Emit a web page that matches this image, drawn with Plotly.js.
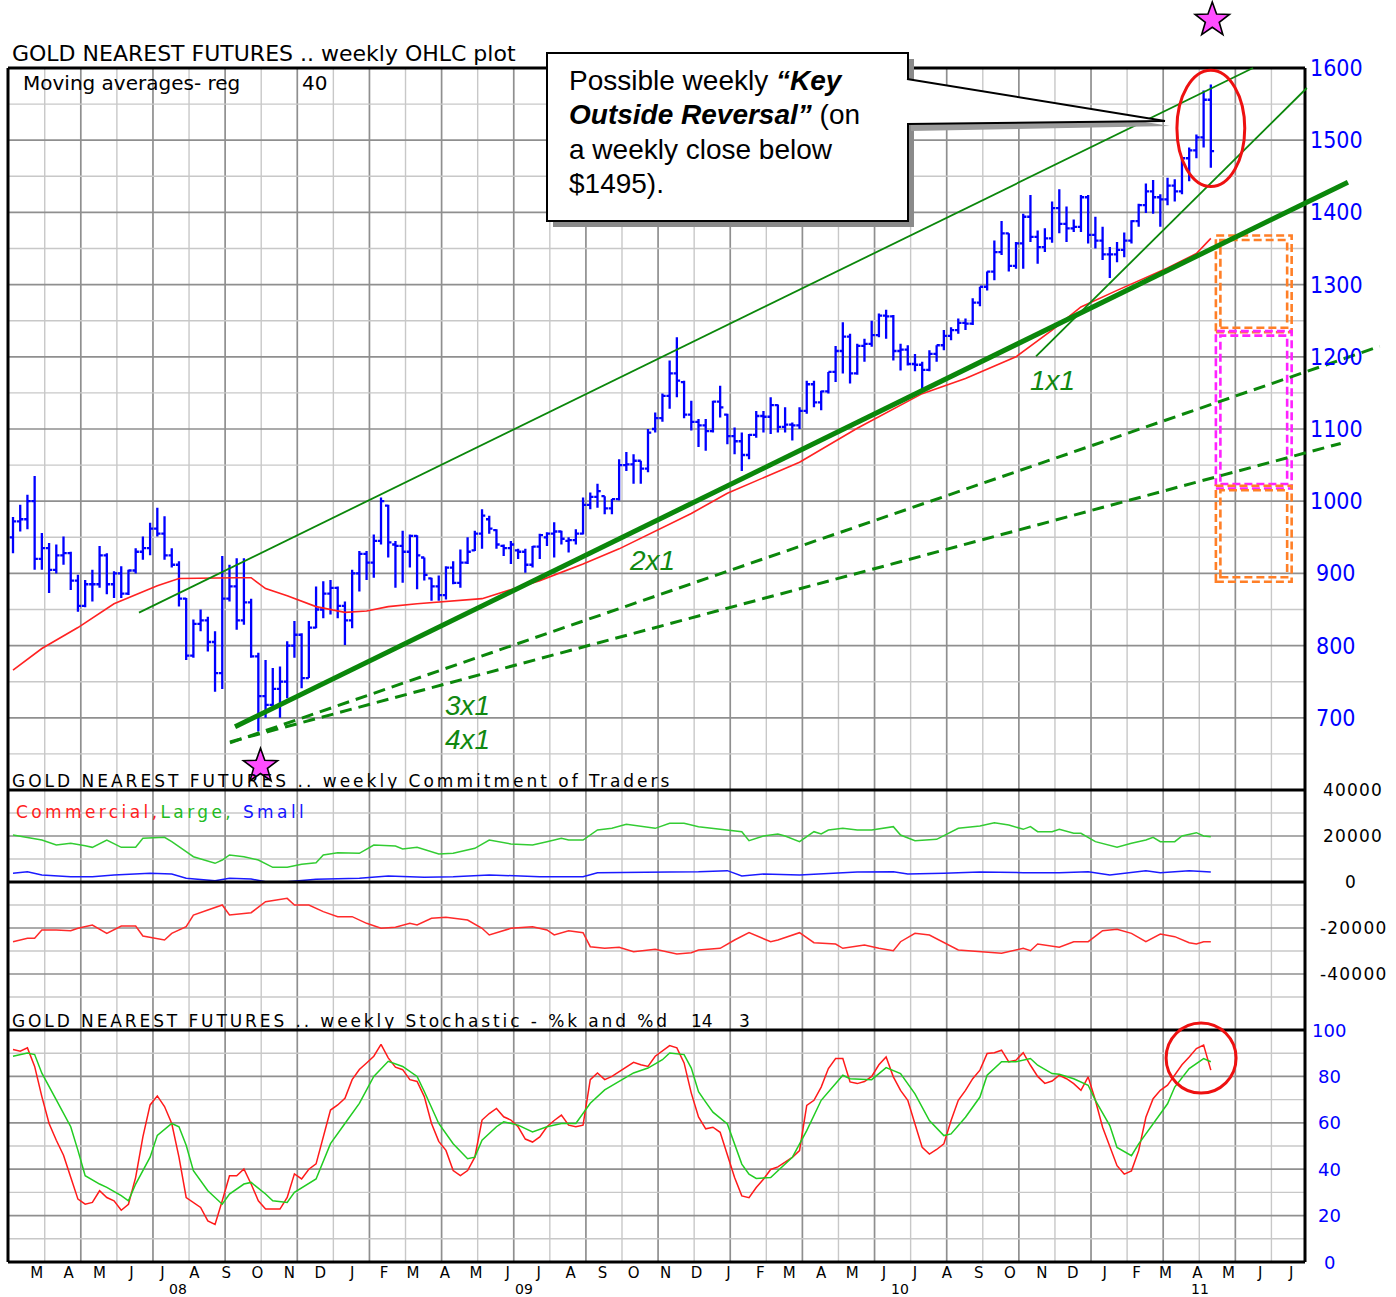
<!DOCTYPE html>
<html><head><meta charset="utf-8">
<script src="https://cdn.plot.ly/plotly-3.0.1.min.js"></script>
<style>html,body{margin:0;padding:0;background:#fff;}#chart{width:1396px;height:1297px;}</style>
</head><body><div id="chart"></div>
<script>
// ================= DATA =================
// Weekly bars, first bar = week ending 2008-02-29, one bar per week (167 bars)
const firstWeek = [2008, 1, 29];
const openP = [950,972,975,1000,920,935,905,925,928,890,
855,885,885,925,885,900,872,904,930,935,
962,955,925,912,865,786,830,835,805,762,
865,882,835,860,785,730,718,740,750,800,
815,755,825,850,872,880,855,835,900,927,
915,945,994,940,938,930,952,922,893,882,
870,908,887,915,932,955,975,960,938,935,
932,930,912,937,950,955,958,945,946,955,
995,1006,1007,990,1003,1050,1051,1056,1045,1100,
1115,1146,1177,1165,1120,1110,1105,1097,1138,1120,
1090,1083,1064,1092,1118,1117,1133,1103,1106,1105,
1125,1162,1137,1152,1179,1208,1228,1177,1215,1218,
1230,1257,1256,1208,1210,1190,1189,1182,1204,1216,
1229,1237,1247,1246,1275,1297,1318,1345,1371,1326,
1357,1394,1366,1352,1364,1406,1384,1378,1380,1421,
1369,1361,1342,1342,1348,1361,1388,1410,1429,1421,
1418,1437,1429,1475,1486,1504,1556];
const highP = [978,995,1009,1035,956,942,940,951,930,898,
891,905,938,928,903,910,905,935,951,970,
991,979,935,917,866,836,850,840,820,924,
912,921,921,865,790,780,769,771,806,834,
817,834,882,889,891,882,861,905,931,931,
954,1005,995,945,959,954,953,922,894,897,
910,917,933,950,959,989,980,961,940,945,
934,934,938,955,957,971,959,950,961,1005,
1012,1024,1007,1003,1058,1068,1065,1056,1100,1123,
1149,1195,1227,1167,1139,1114,1114,1139,1160,1121,
1102,1095,1093,1125,1125,1144,1134,1130,1109,1130,
1167,1167,1153,1179,1215,1248,1232,1218,1225,1250,
1260,1265,1258,1218,1216,1204,1193,1209,1216,1237,
1241,1253,1253,1281,1297,1318,1361,1388,1371,1359,
1398,1424,1375,1378,1415,1432,1408,1390,1424,1424,
1394,1380,1352,1359,1372,1389,1412,1440,1445,1425,
1448,1446,1476,1490,1508,1569,1577];
const lowP = [928,958,961,905,905,873,900,912,877,847,
853,861,880,871,866,866,870,900,919,925,
951,919,908,854,780,783,820,792,736,740,
861,822,829,783,681,700,715,700,727,783,
741,755,824,838,843,838,801,824,875,891,
894,940,922,880,887,908,878,890,862,862,
864,885,880,913,931,934,955,934,924,913,
920,901,908,920,938,922,940,929,940,954,
989,991,982,982,1001,1042,1024,1024,1040,1095,
1110,1128,1144,1115,1098,1075,1070,1095,1116,1079,
1065,1042,1058,1088,1095,1093,1095,1095,1084,1100,
1121,1130,1126,1149,1165,1177,1163,1175,1193,1214,
1227,1225,1195,1181,1188,1180,1155,1180,1193,1209,
1223,1232,1237,1244,1270,1292,1306,1341,1318,1322,
1322,1359,1329,1345,1358,1371,1359,1373,1373,1357,
1350,1334,1309,1331,1338,1357,1380,1399,1398,1380,
1410,1415,1425,1443,1475,1490,1462];
const closeP = [972,975,1000,920,935,905,925,928,890,855,
885,885,925,885,900,872,904,930,935,962,
955,925,912,865,786,830,835,805,762,865,
882,835,860,785,730,718,740,750,800,815,
755,825,850,872,880,855,835,900,927,915,
945,1000,943,938,930,952,925,898,882,870,
908,887,915,930,955,980,962,940,935,940,
930,912,937,953,955,958,948,946,955,995,
1006,1014,990,1003,1050,1051,1056,1045,1095,1115,
1146,1177,1167,1120,1110,1105,1097,1138,1130,1090,
1083,1064,1092,1118,1117,1133,1103,1106,1105,1125,
1162,1137,1152,1179,1208,1228,1177,1215,1218,1230,
1257,1256,1208,1210,1190,1189,1182,1204,1216,1229,
1237,1247,1246,1275,1297,1318,1345,1371,1326,1357,
1394,1366,1352,1364,1406,1384,1378,1380,1421,1369,
1361,1342,1342,1348,1361,1388,1410,1429,1421,1418,
1437,1429,1475,1486,1504,1556,1485];

// 40-week moving average (read at bar numbers)
const maWeek = [0,4,9,14,20,23,31,33,35,38,42,46,49,52,56,65,73,79,84,89,94,99,104,109,117,126,132,139,144,148,153,160,164,166];
const maVal  = [766,796,825,858,883,893,894,894,879,869,854,846,848,854,858,865,890,913,934,959,983,1011,1033,1054,1101,1149,1170,1200,1237,1269,1292,1323,1343,1364];

// Commitment of Traders (net positions)
const largeWeek = [0,2,4,6,8,10,11,13,15,17,18,21,22,24,25,28,29,30,32,34,36,38,40,42,43,45,48,50,53,54,56,59,61,64,66,69,72,74,76,77,79,81,83,85,87,89,91,93,95,99,101,102,104,106,107,109,111,112,113,115,117,119,122,123,125,128,131,134,136,138,140,141,142,144,145,147,148,150,153,155,157,158,159,161,162,164,165,166];
const largeVal = [20435,19430,18260,16090,16820,15800,15070,18260,15070,15070,19000,19430,17540,13190,11000,8120,9565,11740,11000,9565,6380,6380,7680,8400,11740,12750,12460,16090,15650,14350,15070,12170,12460,14640,18260,16520,16090,17540,19000,18260,18260,22610,23330,25070,24060,23330,25500,25500,24060,22610,21880,17970,20000,20870,20000,17540,21880,20870,22610,23330,22610,22610,24060,20435,17970,18550,23330,24350,25790,24790,22900,24060,21880,21880,22900,21160,21160,17540,15070,16820,18260,19430,17540,17540,20000,21450,20000,19710];
const smallWeek = [0,2,4,8,11,14,19,22,24,28,30,33,35,38,42,48,52,57,61,66,73,79,81,85,91,95,99,101,104,109,114,117,122,124,129,134,140,145,149,152,157,159,163,166];
const smallVal = [3770,4490,3040,2320,2320,3040,3770,3480,1590,580,1590,1300,140,140,1160,1590,2610,2030,2320,3040,2320,2320,4060,4060,4350,4490,4930,2610,3480,3040,4060,4350,4490,3480,3770,4350,4060,4060,4490,3040,4930,4060,4930,4350];
const commWeek = [0,2,3,4,6,8,9,11,13,15,17,18,21,22,24,25,27,29,30,33,35,38,39,41,43,45,47,49,51,53,55,56,58,60,63,65,66,69,72,74,75,77,79,80,82,84,86,89,92,94,95,98,100,102,105,106,109,111,114,115,118,120,122,123,125,127,131,134,137,140,141,142,145,147,149,151,153,155,157,159,161,163,164,165,166];
const commVal = [-25960,-24500,-24500,-20870,-20870,-21160,-20140,-18700,-22320,-19130,-19130,-23480,-25220,-22320,-19420,-14350,-12170,-10000,-14350,-13330,-8550,-7100,-10000,-10000,-12900,-15070,-15070,-17970,-20140,-19710,-17970,-18700,-15800,-15360,-16520,-20140,-23040,-20140,-19420,-20870,-23040,-21160,-22030,-28120,-28840,-28400,-30300,-29260,-31300,-30730,-29560,-28840,-25220,-22030,-25960,-25220,-22030,-26380,-26960,-28840,-27390,-28840,-29870,-25960,-22320,-23040,-29560,-30300,-31010,-28840,-29870,-26960,-28400,-25960,-25960,-21160,-20580,-22320,-25960,-22610,-23770,-26380,-26960,-25960,-25960];

// Stochastic %K (every week) and %D (read at bar numbers)
const stochK = [91.6,90.9,92.3,84.3,71.3,59.7,52.5,46,36.5,27.1,
24.9,25.7,30.7,27.8,26.4,22.3,24.9,36.5,53.9,67.7,
71.6,67,59.7,45.2,27.8,25.7,23.5,17.7,16.2,26.4,
37.2,37.2,40.1,33.6,26.4,22.8,22.8,22.8,27.8,38,
35.8,40,42.3,53.9,65.5,67.7,70.6,78.6,83,85.8,
88.7,93.8,88,84,82.9,78.6,77.8,71.3,59.7,52,
48.1,39.4,37.2,39.4,45.2,61.2,64,66.2,62.6,61.2,
58.3,53,51.7,53.9,58.3,61,63.3,59,58.3,59,
78.6,81.5,78.6,80,82,84.3,86.1,85,84.3,88.7,
91,93.3,92.3,85.8,72.8,62.5,57.4,58.1,55.9,46.5,
36.4,28.5,27.7,32.1,35.7,39.9,41,43,45.1,48,
67.5,69.7,75.4,83.4,87.7,87.7,77.6,76.9,77.8,80,
85,88.4,79.8,74,69.7,59.5,49.4,46.5,48.5,50.9,
61,69.7,74,79,82.7,89.9,90.2,91.3,86.3,87,
90.2,84.8,80,77,78,80.5,79,76.9,74,79.8,
69.7,58.1,49.4,41.5,37.9,39.3,48,62.4,70.4,74,
76.2,80.5,85,88.4,92,93.5,82.7];
const dWeek = [0,2,3,4,6,8,9,10,12,13,15,16,17,19,20,22,23,24,25,27,29,30,32,33,35,36,38,39,42,44,46,48,50,52,54,56,57,59,61,63,64,65,67,68,70,72,74,76,78,80,82,84,86,88,90,91,93,94,95,96,97,99,100,101,102,103,105,106,108,110,112,115,116,119,120,121,123,125,127,129,130,132,134,135,137,139,141,142,144,145,147,149,150,152,153,155,156,158,160,161,163,165,166];
const stochD = [88.7,90.1,89.4,81.4,69.9,58.3,48.1,37.2,33.6,32.2,28.6,26.4,33.6,45.2,54.6,59.7,58.3,50.3,39.4,30.7,24.9,29.3,33.6,34.3,29.3,26.4,25.7,30,35.8,51,59.7,68.4,80,86.5,84.3,80,73.5,59.7,51,44.5,45.2,52.5,58.3,60.4,59,56.1,58.3,59.7,59.7,68.4,74.2,77.8,81.5,83.6,87.2,90.1,89.4,83.6,73.4,68.9,64.6,59.5,50.9,42.2,37.9,36,36.4,39.3,45.1,56.6,69.7,80.5,79,78.6,81.2,83.8,81.2,72.5,61,54.5,55.2,62.4,71.1,80.5,86.3,86.3,87.7,84.8,81.2,80.9,79,76.2,69.7,58.8,49.4,45.8,50.9,59.5,68.2,75.4,83.4,87.7,86.3];

// Tick labels
const monthLetters = "MAMJJASONDJFMAMJJASONDJFMAMJJASONDJFMAMJJ".split('');
const yearLabels = ['08','09','10','11'];
const priceTicks = [1600,1500,1400,1300,1200,1100,1000,900,800,700];
const cotTicks = [40000,20000,0,-20000,-40000];
const stochTicks = [100,80,60,40,20,0];

// ================= GEOMETRY / HELPERS =================
const DAY = 864e5;
const W0 = Date.UTC(firstWeek[0], firstWeek[1], firstWeek[2]);
const idxDate = i => new Date(W0 + i * 7 * DAY).toISOString().slice(0, 19).replace('T', ' ');
const weekDates = openP.map((_, i) => idxDate(i));
const XI = [-0.693, 179.05];
const DOM = {p: [0.39531, 1], c: [0.19430, 0.39531], s: [0, 0.19430]};
const RANGE = {p: [600, 1600], c: [-64350, 40000], s: [0, 100]};
const xp = i => (i - XI[0]) / (XI[1] - XI[0]);
const yp = (k, v) => DOM[k][0] + (v - RANGE[k][0]) / (RANGE[k][1] - RANGE[k][0]) * (DOM[k][1] - DOM[k][0]);
const pxX = px => (px - 8) / 1297;
const pxY = py => (1262 - py) / 1194;

const shapes = [];
function seg(x0, y0, x1, y1, color, width, dash, layer) {
  shapes.push({type: 'line', xref: 'paper', yref: 'paper', x0, y0, x1, y1,
    line: {color, width, dash: dash || 'solid'}, layer: layer || 'above'});
}
function rect(x0, y0, x1, y1, line, fill, layer) {
  shapes.push({type: 'rect', xref: 'paper', yref: 'paper', x0, y0, x1, y1,
    line: line || {width: 0}, fillcolor: fill || 'rgba(0,0,0,0)', layer: layer || 'above'});
}

// ---- grid ----
const DARK = '#8f8f8f', LIGHT = '#c8c8c8';
const GRID0 = -0.603;
for (let k = 1; k <= 35; k++) {
  const x = xp(GRID0 + 5 * k);
  seg(x, 0, x, 1, k % 2 === 0 ? DARK : LIGHT, k % 2 === 0 ? 1.7 : 1.4, 'solid', 'below');
}
for (let v = 650; v <= 1550; v += 50) seg(0, yp('p', v), 1, yp('p', v), v % 100 === 0 ? DARK : LIGHT, v % 100 === 0 ? 1.7 : 1.4, 'solid', 'below');
for (let v = -50000; v <= 30000; v += 10000) if (v !== 0) seg(0, yp('c', v), 1, yp('c', v), v % 20000 === 0 ? DARK : LIGHT, v % 20000 === 0 ? 1.7 : 1.4, 'solid', 'below');
for (let v = 10; v <= 90; v += 10) seg(0, yp('s', v), 1, yp('s', v), v % 20 === 0 ? DARK : LIGHT, v % 20 === 0 ? 1.7 : 1.4, 'solid', 'below');

// ---- frames ----
seg(0, 0, 0, 1, '#000', 3); seg(1, 0, 1, 1, '#000', 3);
seg(0, 1, 1, 1, '#000', 3); seg(0, 0, 1, 0, '#000', 3);
seg(0, DOM.p[0], 1, DOM.p[0], '#000', 3);
seg(0, DOM.c[0], 1, DOM.c[0], '#000', 3);
seg(0, yp('c', 0), 1, yp('c', 0), '#000', 3);

// ---- price zone boxes (double dashed) ----
const zoneBoxes = [
  {i0: 166.7, i1: 177.2, top: 1368, bot: 1234, color: '#ff7f27'},
  {i0: 166.7, i1: 177.2, top: 1235.5, bot: 1017.5, color: '#ff22ff'},
  {i0: 166.7, i1: 177.2, top: 1021.5, bot: 888.5, color: '#ff7f27'}
];
zoneBoxes.forEach(b => {
  const x0 = xp(b.i0), x1 = xp(b.i1), y0 = yp('p', b.bot), y1 = yp('p', b.top);
  const dx = 4.5 / 1297, dy = 4.5 / 1194;
  rect(x0, y0, x1, y1, {color: b.color, width: 2.6, dash: '8px,4px'});
  rect(x0 + dx, y0 + dy, x1 - dx, y1 - dy, {color: b.color, width: 2.6, dash: '8px,4px'});
});

// ---- trend lines (data units: bar number, price) ----
const GREEN = '#0b870b';
const trendLines = [
  {i0: 17.46, p0: 845.6, i1: 171.84, p1: 1600, w: 1.8, dash: 'solid'},
  {i0: 30.77, p0: 687.5, i1: 185.0, p1: 1441.9, w: 5, dash: 'solid'},
  {i0: 141.77, p0: 1200.6, i1: 179.3, p1: 1572.3, w: 1.8, dash: 'solid'},
  {i0: 30.07, p0: 665.3, i1: 189.4, p1: 1214.5, w: 3, dash: '12px,7px'},
  {i0: 30.07, p0: 666.7, i1: 184.0, p1: 1080, w: 3, dash: '12px,7px'}
];
trendLines.forEach(t => seg(xp(t.i0), yp('p', t.p0), xp(t.i1), yp('p', t.p1), GREEN, t.w, t.dash));

// ---- ellipses ----
shapes.push({type: 'circle', xref: 'paper', yref: 'paper', x0: xp(161.3), x1: xp(170.7), y0: yp('p', 1436), y1: yp('p', 1597), line: {color: '#ee1111', width: 3}, layer: 'above'});
shapes.push({type: 'circle', xref: 'paper', yref: 'paper', x0: xp(159.8), x1: xp(169.5), y0: yp('s', 72.8), y1: yp('s', 103), line: {color: '#ee1111', width: 3}, layer: 'above'});

// ---- star marks at the 2008 low and the 2011 high (bar number, price) ----
const starMarks = [{i: 34.3, p: 633}, {i: 166.2, p: 1666.5}];
starMarks.forEach(s => {
  const cx = 8 + xp(s.i) * 1297, cy = 1262 - yp('p', s.p) * 1194;
  let d = '';
  for (let k = 0; k < 10; k++) {
    const a = -Math.PI / 2 + k * Math.PI / 5, r = k % 2 === 0 ? 18 : 7.3;
    d += (k === 0 ? 'M' : ' L') + pxX(cx + r * Math.cos(a)).toFixed(5) + ',' + pxY(cy + r * Math.sin(a)).toFixed(5);
  }
  shapes.push({type: 'path', xref: 'paper', yref: 'paper', path: d + ' Z', fillcolor: '#ff4dff', line: {color: '#000', width: 1.6}, layer: 'above'});
});

// ---- callout box ----
const P = (x, y) => pxX(x).toFixed(5) + ',' + pxY(y).toFixed(5);
rect(pxX(553), pxY(227), pxX(914), pxY(59), {width: 0}, '#8a8a8a');
shapes.push({type: 'path', xref: 'paper', yref: 'paper', path: 'M' + P(911, 84) + ' L' + P(1170, 126) + ' L' + P(911, 131) + ' Z', fillcolor: '#9a9a9a', line: {width: 0}, layer: 'above'});
rect(pxX(547), pxY(221), pxX(908), pxY(53), {color: '#000', width: 2}, '#ffffff');
shapes.push({type: 'path', xref: 'paper', yref: 'paper', path: 'M' + P(905, 79) + ' L' + P(1165, 121) + ' L' + P(905, 124) + ' Z', fillcolor: '#ffffff', line: {width: 0}, layer: 'above'});
seg(pxX(907), pxY(79), pxX(1165), pxY(121), '#000', 2);
seg(pxX(907), pxY(124), pxX(1165), pxY(121), '#000', 2);

// ================= ANNOTATIONS =================
const DV = 'DejaVu Sans, Verdana, sans-serif';
const AR = 'Liberation Sans, Arial, sans-serif';
const ann = [];
const spacing = {};
function txt(text, x, y, font, opts) {
  ann.push(Object.assign({text, x, y, xref: 'paper', yref: 'paper', xanchor: 'left', yanchor: 'middle', align: 'left', showarrow: false, font}, opts || {}));
  return ann.length - 1;
}
txt('GOLD NEAREST FUTURES .. weekly OHLC plot', pxX(10), pxY(54), {family: DV, size: 22, color: '#000'});
txt('Moving averages- reg', pxX(21), pxY(83), {family: DV, size: 20, color: '#000'});
txt('40', pxX(300), pxY(83), {family: DV, size: 20, color: '#000'});
spacing[txt('GOLD NEAREST FUTURES .. weekly Commitment of Traders', pxX(10), pxY(781), {family: DV, size: 17, color: '#000'})] = 3.0;
spacing[txt('<span style="color:#ff2020">Commercial,</span><span style="color:#22bb22">Large,</span><span style="color:#1515ff"> Small</span>', pxX(14), pxY(812), {family: DV, size: 17, color: '#000'})] = 3.4;
spacing[txt('GOLD NEAREST FUTURES .. weekly Stochastic - %k and %d', pxX(10), pxY(1021), {family: DV, size: 17, color: '#000'})] = 2.9;
txt('14', pxX(689), pxY(1021), {family: DV, size: 17, color: '#000'});
txt('3', pxX(737), pxY(1021), {family: DV, size: 17, color: '#000'});

const calloutLines = ['Possible weekly <b><i>“Key</i></b>', '<b><i>Outside Reversal”</i></b> (on', 'a weekly close below', '$1495).'];
[80, 114.5, 149, 183].forEach((y, k) => txt(calloutLines[k], pxX(567), pxY(y), {family: AR, size: 28, color: '#000'}));

const ratioLabels = [
  {t: '2x1', i: 88.6, p: 917.7}, {t: '1x1', i: 144.1, p: 1167.3},
  {t: '3x1', i: 63.05, p: 716.6}, {t: '4x1', i: 63.05, p: 669.5}
];
ratioLabels.forEach(r => txt('<i>' + r.t + '</i>', xp(r.i), yp('p', r.p), {family: AR, size: 28, color: '#118811'}, {xanchor: 'center'}));

const yearPos = [22.9, 70.8, 122.9, 164.5];
yearLabels.forEach((t, k) => txt(t, xp(yearPos[k]), pxY(1289), {family: DV, size: 14, color: '#000'}, {xanchor: 'center'}));

priceTicks.forEach(v => txt(String(v), pxX(1336), yp('p', v), {family: 'Liberation Sans Narrow, Arial Narrow, DejaVu Sans Condensed, sans-serif', size: 23, color: '#0000ff'}, {xanchor: 'center'}));
cotTicks.forEach(v => { spacing[txt(String(v), pxX(1350), yp('c', v), {family: DV, size: 17, color: '#000'}, {xanchor: 'center'})] = 1.2; });
stochTicks.forEach(v => txt(String(v), pxX(1329), yp('s', v), {family: DV, size: 18, color: '#0000ff'}, {xanchor: 'center'}));

// ================= TRACES =================
const tickvals = monthLetters.map((_, k) => new Date(Date.UTC(2008, 2 + k, 23)).toISOString().slice(0, 10));
const traces = [
  {type: 'ohlc', x: weekDates, open: openP, high: highP, low: lowP, close: closeP,
   increasing: {line: {color: '#0000ff', width: 2.3}}, decreasing: {line: {color: '#0000ff', width: 2.3}},
   tickwidth: 0.45, xaxis: 'x', yaxis: 'y', hoverinfo: 'skip'},
  {type: 'scatter', mode: 'lines', x: maWeek.map(idxDate), y: maVal, line: {color: '#ff2222', width: 1.6}, yaxis: 'y'},
  {type: 'scatter', mode: 'lines', x: largeWeek.map(idxDate), y: largeVal, line: {color: '#33cc33', width: 1.5}, yaxis: 'y2'},
  {type: 'scatter', mode: 'lines', x: smallWeek.map(idxDate), y: smallVal, line: {color: '#1a1aff', width: 1.5}, yaxis: 'y2'},
  {type: 'scatter', mode: 'lines', x: commWeek.map(idxDate), y: commVal, line: {color: '#ff2a2a', width: 1.5}, yaxis: 'y2'},
  {type: 'scatter', mode: 'lines', x: weekDates, y: stochK, line: {color: '#ff1a1a', width: 1.5}, yaxis: 'y3'},
  {type: 'scatter', mode: 'lines', x: dWeek.map(idxDate), y: stochD, line: {color: '#22cc22', width: 1.5}, yaxis: 'y3'}
];

const layout = {
  width: 1396, height: 1297, margin: {l: 8, r: 91, t: 68, b: 35},
  paper_bgcolor: '#ffffff', plot_bgcolor: 'rgba(0,0,0,0)', showlegend: false, hovermode: false,
  xaxis: {type: 'date', range: [idxDate(XI[0]), idxDate(XI[1])], tickmode: 'array', tickvals, ticktext: monthLetters,
    showgrid: false, zeroline: false, showline: false, ticks: '', tickangle: 0, anchor: 'y3', ticklabelstandoff: 0,
    tickfont: {family: DV, size: 15, color: '#000'}, rangeslider: {visible: false}, fixedrange: true},
  yaxis: {domain: DOM.p, range: RANGE.p, showgrid: false, zeroline: false, showticklabels: false, fixedrange: true},
  yaxis2: {domain: DOM.c, range: RANGE.c, showgrid: false, zeroline: false, showticklabels: false, fixedrange: true},
  yaxis3: {domain: DOM.s, range: RANGE.s, showgrid: false, zeroline: false, showticklabels: false, fixedrange: true},
  shapes, annotations: ann
};

Plotly.newPlot('chart', traces, layout, {staticPlot: true, displayModeBar: false}).then(gd => {
  Object.keys(spacing).forEach(i => {
    const t = gd.querySelector('g.annotation[data-index="' + i + '"] text');
    if (t) t.style.letterSpacing = spacing[i] + 'px';
  });
});
</script></body></html>
